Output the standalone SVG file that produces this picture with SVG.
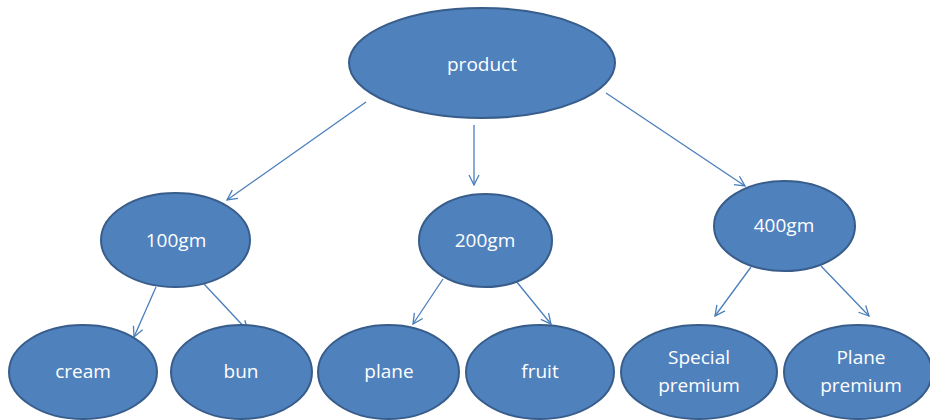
<svg xmlns="http://www.w3.org/2000/svg" width="930" height="420" viewBox="0 0 930 420">
<style>
.n ellipse{fill:#4f81bd;stroke:#385d8a;stroke-width:2}
.n text{fill:#fff;font-family:"Open Sans","Liberation Sans",sans-serif;font-size:19px;text-anchor:middle}
.c line{stroke:#4a7ebb;stroke-width:1.3;fill:none;marker-end:url(#a)}
</style>
<defs>
<marker id="a" viewBox="0 0 12 12" refX="11" refY="6" markerWidth="12" markerHeight="12" markerUnits="userSpaceOnUse" orient="auto">
<path d="M1,1 L11,6 L1,11" fill="none" stroke="#4a7ebb" stroke-width="1.3"/>
</marker>
</defs>
<rect width="930" height="420" fill="#fff"/>
<g id="connectors" class="c">
<line x1="366" y1="102" x2="227" y2="200"/>
<line x1="474" y1="125" x2="474" y2="185"/>
<line x1="606" y1="93" x2="745" y2="186"/>
<line x1="156" y1="287" x2="134" y2="337"/>
<line x1="204" y1="284" x2="248" y2="331"/>
<line x1="443" y1="279" x2="413" y2="324"/>
<line x1="516" y1="281" x2="551" y2="324"/>
<line x1="751" y1="267" x2="715" y2="316"/>
<line x1="821" y1="266" x2="869" y2="316"/>
</g>
<g id="product" class="n"><ellipse cx="482" cy="63" rx="133" ry="55"/><text x="482" y="71">product</text></g>
<g id="g100" class="n"><ellipse cx="175.5" cy="240" rx="74.5" ry="47"/><text x="176" y="247">100gm</text></g>
<g id="g200" class="n"><ellipse cx="485.5" cy="240.5" rx="66.5" ry="46.5"/><text x="485" y="247">200gm</text></g>
<g id="g400" class="n"><ellipse cx="784.5" cy="226" rx="70.5" ry="45"/><text x="784" y="232">400gm</text></g>
<g id="cream" class="n"><ellipse cx="83" cy="372" rx="74" ry="47"/><text x="83" y="378">cream</text></g>
<g id="bun" class="n"><ellipse cx="241.5" cy="372" rx="70.5" ry="47"/><text x="241" y="378">bun</text></g>
<g id="plane" class="n"><ellipse cx="388.5" cy="372" rx="70.5" ry="47"/><text x="389" y="378">plane</text></g>
<g id="fruit" class="n"><ellipse cx="540" cy="372" rx="74" ry="47"/><text x="540" y="378">fruit</text></g>
<g id="special" class="n"><ellipse cx="699" cy="372" rx="78" ry="47"/><text x="699" y="364">Special</text><text x="699" y="392">premium</text></g>
<g id="planepremium" class="n"><ellipse cx="858" cy="372" rx="74" ry="47"/><text x="861" y="364">Plane</text><text x="861" y="392">premium</text></g>
</svg>
